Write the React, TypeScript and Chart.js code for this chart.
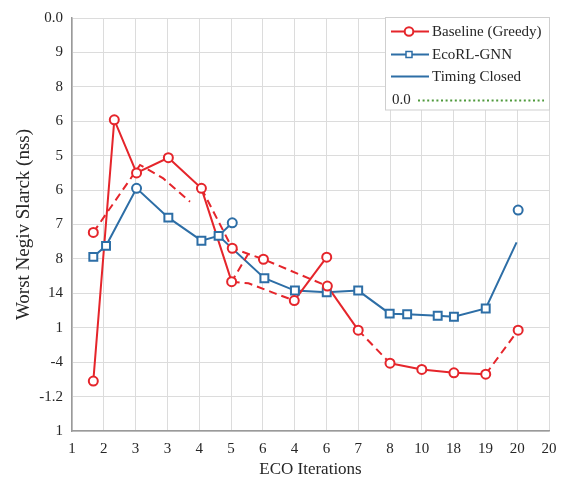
import React, { useEffect, useRef } from "react";
import { Chart, registerables } from "chart.js";

Chart.register(...registerables);

const FONT = '"Liberation Serif", "Times New Roman", serif';
const RED = "#e5252b";
const BLUE = "#2d6ea6";
const GREEN = "#4f9a3c";
const TEXT = "#262626";

// Tick labels (as printed in the original figure)
const xTickLabels = ["1", "2", "3", "3", "4", "5", "6", "4", "6", "7", "8", "10", "18", "19", "20", "20"];
const yTickLabels = ["1", "-1.2", "-4", "1", "14", "8", "7", "6", "5", "6", "8", "9", "0.0"]; // bottom -> top

// Baseline (Greedy) – solid segments
const baselineSolidA: [number, number][] = [[0.67, 1.45], [1.33, 9.04], [2.03, 7.5], [3.03, 7.94], [4.07, 7.05], [5.02, 4.34]];
const baselineSolidB: [number, number][] = [[6.99, 3.79], [8.01, 5.05]];
const baselineSolidC: [number, number][] = [[8.03, 4.21], [9.0, 2.93]];
const baselineSolidD: [number, number][] = [[10.0, 1.97], [11.0, 1.79], [12.01, 1.69], [13.01, 1.65]];
// Baseline (Greedy) – dashed segments
const baselineDashedA: [number, number][] = [[0.67, 5.77], [2.14, 7.73], [2.87, 7.34], [3.71, 6.66]];
const baselineDashedB: [number, number][] = [[4.07, 7.05], [5.04, 5.31], [6.02, 4.99], [8.03, 4.21]];
const baselineDashedC: [number, number][] = [[5.55, 5.16], [5.02, 4.34]];
const baselineDashedD: [number, number][] = [[5.02, 4.34], [5.55, 4.29], [6.38, 4.0], [6.99, 3.79]];
const baselineDashedE: [number, number][] = [[9.0, 2.93], [10.0, 1.97]];
const baselineDashedF: [number, number][] = [[13.01, 1.65], [14.03, 2.93]];
// Baseline circle markers
const baselineMarkers: [number, number][] = [
  [0.67, 1.45], [1.33, 9.04], [2.03, 7.5], [3.03, 7.94], [4.07, 7.05], [5.02, 4.34],
  [5.04, 5.31], [6.02, 4.99], [6.99, 3.79], [8.01, 5.05], [8.03, 4.21], [9.0, 2.93],
  [10.0, 1.97], [11.0, 1.79], [12.01, 1.69], [13.01, 1.65], [14.03, 2.93], [0.67, 5.77],
];

// EcoRL-GNN
const ecoMain: [number, number][] = [
  [0.67, 5.06], [1.07, 5.38], [2.03, 7.05], [3.03, 6.2], [4.07, 5.53], [4.61, 5.67],
  [6.05, 4.44], [7.01, 4.08], [8.01, 4.03], [9.0, 4.08], [9.99, 3.41], [10.54, 3.39],
  [11.5, 3.35], [12.01, 3.32], [13.01, 3.56], [13.98, 5.48],
];
const ecoBranch: [number, number][] = [[4.61, 5.67], [5.04, 6.05]];
const ecoSquares: [number, number][] = [
  [0.67, 5.06], [1.07, 5.38], [3.03, 6.2], [4.07, 5.53], [4.61, 5.67], [6.05, 4.44],
  [7.01, 4.08], [8.01, 4.03], [9.0, 4.08], [9.99, 3.41], [10.54, 3.39], [11.5, 3.35],
  [12.01, 3.32], [13.01, 3.56],
];
const ecoCircles: [number, number][] = [[2.03, 7.05], [5.04, 6.05], [14.03, 6.42]];

const legendLabels = ["Baseline (Greedy)", "EcoRL-GNN", "Timing Closed", "0.0"];

const toPts = (a: [number, number][]) => a.map(([x, y]) => ({ x, y }));

function lineDs(label: string, pts: [number, number][], color: string, dash: number[] = []) {
  return {
    label,
    data: toPts(pts),
    borderColor: color,
    borderWidth: 2,
    borderDash: dash,
    pointRadius: 0,
    pointHoverRadius: 0,
    fill: false,
    tension: 0,
    showLine: true,
  };
}

function markerDs(label: string, pts: [number, number][], color: string, style: string, radius: number) {
  return {
    label,
    data: toPts(pts),
    showLine: false,
    borderColor: color,
    backgroundColor: "#fff",
    pointStyle: style,
    pointRadius: radius,
    pointHoverRadius: radius,
    pointBorderWidth: 2,
    pointBackgroundColor: "#fff",
    pointBorderColor: color,
  };
}

const legendPlugin = {
  id: "customLegend",
  afterDraw(chart: any) {
    const ctx: CanvasRenderingContext2D = chart.ctx;
    ctx.save();
    ctx.fillStyle = "#fff";
    ctx.fillRect(385.5, 17.5, 164, 92.5);
    ctx.strokeStyle = "#cfcfcf";
    ctx.lineWidth = 1;
    ctx.strokeRect(385.5, 17.5, 164, 92.5);

    const rows = [31.5, 54.5, 76.5, 99.5];
    ctx.font = `15px ${FONT}`;
    ctx.textBaseline = "middle";
    ctx.textAlign = "left";

    // row 1
    ctx.strokeStyle = RED;
    ctx.lineWidth = 2;
    ctx.beginPath();
    ctx.moveTo(391, rows[0]);
    ctx.lineTo(429, rows[0]);
    ctx.stroke();
    ctx.beginPath();
    ctx.arc(409, rows[0], 4.3, 0, Math.PI * 2);
    ctx.fillStyle = "#fff";
    ctx.fill();
    ctx.stroke();
    ctx.fillStyle = TEXT;
    ctx.fillText(legendLabels[0], 432, rows[0] + 1);

    // row 2
    ctx.strokeStyle = BLUE;
    ctx.beginPath();
    ctx.moveTo(391, rows[1]);
    ctx.lineTo(429, rows[1]);
    ctx.stroke();
    ctx.fillStyle = "#fff";
    ctx.fillRect(406, rows[1] - 3, 6, 6);
    ctx.lineWidth = 1.5;
    ctx.strokeRect(406, rows[1] - 3, 6, 6);
    ctx.fillStyle = TEXT;
    ctx.fillText(legendLabels[1], 432, rows[1] + 1);

    // row 3
    ctx.lineWidth = 2;
    ctx.beginPath();
    ctx.moveTo(391, rows[2]);
    ctx.lineTo(429, rows[2]);
    ctx.stroke();
    ctx.fillText(legendLabels[2], 432, rows[2] + 1);

    // row 4
    ctx.fillText(legendLabels[3], 392, rows[3] + 1);
    ctx.strokeStyle = GREEN;
    ctx.lineWidth = 2;
    ctx.setLineDash([2, 2.6]);
    ctx.beginPath();
    ctx.moveTo(418, rows[3] + 1);
    ctx.lineTo(544, rows[3] + 1);
    ctx.stroke();
    ctx.restore();
  },
};

export default function App() {
  const ref = useRef<HTMLCanvasElement>(null);

  useEffect(() => {
    if (!ref.current) return;
    const chart = new Chart(ref.current, {
      type: "line",
      data: {
        datasets: [
          markerDs("Baseline (Greedy)", baselineMarkers, RED, "circle", 4.5),
          markerDs("EcoRL-GNN", ecoSquares, BLUE, "rect", 5.6),
          markerDs("EcoRL-GNN", ecoCircles, BLUE, "circle", 4.5),
          lineDs("Baseline (Greedy)", baselineSolidA, RED),
          lineDs("Baseline (Greedy)", baselineSolidB, RED),
          lineDs("Baseline (Greedy)", baselineSolidC, RED),
          lineDs("Baseline (Greedy)", baselineSolidD, RED),
          lineDs("Baseline (Greedy)", baselineDashedA, RED, [8, 5]),
          lineDs("Baseline (Greedy)", baselineDashedB, RED, [8, 5]),
          lineDs("Baseline (Greedy)", baselineDashedC, RED, [8, 5]),
          lineDs("Baseline (Greedy)", baselineDashedD, RED, [8, 5]),
          lineDs("Baseline (Greedy)", baselineDashedE, RED, [8, 5]),
          lineDs("Baseline (Greedy)", baselineDashedF, RED, [8, 5]),
          lineDs("EcoRL-GNN", ecoMain, BLUE),
          lineDs("EcoRL-GNN", ecoBranch, BLUE),
        ] as any,
      },
      options: {
        animation: false,
        responsive: true,
        maintainAspectRatio: false,
        layout: { padding: { top: 18, right: 22, left: 0, bottom: 0 } },
        plugins: { legend: { display: false }, tooltip: { enabled: false } },
        scales: {
          x: {
            type: "linear",
            min: 0,
            max: 15,
            afterFit: (s: any) => {
              s.height = 50;
            },
            ticks: {
              stepSize: 1,
              autoSkip: false,
              maxRotation: 0,
              padding: 9,
              color: TEXT,
              font: { family: FONT, size: 15 },
              callback: (v: any) => xTickLabels[Math.round(Number(v))] ?? "",
            },
            grid: { color: "#dcdcdc", lineWidth: 1, drawTicks: false },
            border: { color: "#9a9a9a", width: 1.5 },
            title: {
              display: true,
              text: "ECO Iterations",
              color: TEXT,
              font: { family: FONT, size: 17 },
              padding: { top: 0, bottom: 1 },
            },
          },
          y: {
            type: "linear",
            min: 0,
            max: 12,
            afterFit: (s: any) => {
              s.width = 72;
            },
            ticks: {
              stepSize: 1,
              autoSkip: false,
              padding: 9,
              color: TEXT,
              font: { family: FONT, size: 15 },
              callback: (v: any) => yTickLabels[Math.round(Number(v))] ?? "",
            },
            grid: { color: "#dcdcdc", lineWidth: 1, drawTicks: false },
            border: { color: "#9a9a9a", width: 1.5 },
            title: {
              display: true,
              text: "Worst Negiv Slarck (nss)",
              color: TEXT,
              font: { family: FONT, size: 19 },
              padding: { top: 13, bottom: 0 },
            },
          },
        },
      } as any,
      plugins: [legendPlugin],
    });
    return () => chart.destroy();
  }, []);

  return (
    <div style={{ position: "fixed", left: 0, top: 0, width: 571, height: 481, background: "#fff" }}>
      <canvas ref={ref} style={{ display: "block" }} />
    </div>
  );
}
